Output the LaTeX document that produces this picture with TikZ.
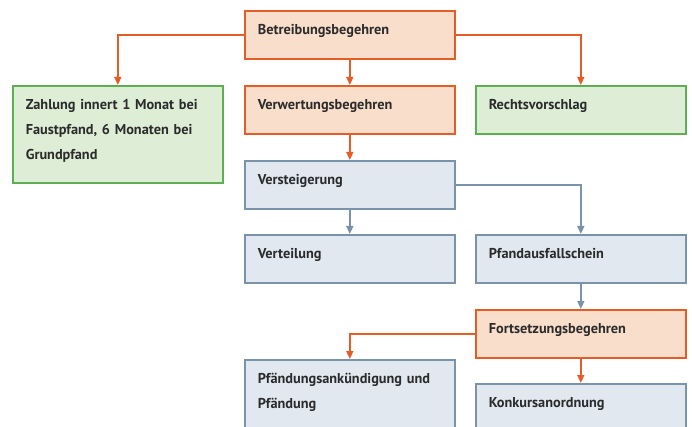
\documentclass[tikz,border=0pt]{standalone}
\usepackage{fontspec}
\setmainfont{PT Sans}
\usetikzlibrary{arrows.meta,positioning}
\definecolor{orangeline}{HTML}{E45D27}
\definecolor{orangefill}{HTML}{F9DECB}
\definecolor{greenline}{HTML}{5DAF52}
\definecolor{greenfill}{HTML}{DDEDD6}
\definecolor{blueline}{HTML}{7893AA}
\definecolor{bluefill}{HTML}{E1E8EF}
\definecolor{textgray}{HTML}{2B2B2B}

\begin{document}
\begin{tikzpicture}[x=1pt, y=-1pt,
  box/.style={draw, line width=1.6pt, anchor=north west, text width=184pt, align=left,
    inner xsep=13pt, inner ysep=0pt, text height=24pt, text depth=24pt,
    font=\bfseries\fontsize{14.3}{25}\selectfont, text=textgray},
  orangebox/.style={box, draw=orangeline, fill=orangefill},
  greenbox/.style={box, draw=greenline, fill=greenfill},
  bluebox/.style={box, draw=blueline, fill=bluefill},
  link/.style={line width=1.6pt, -{Triangle[length=8pt,width=7pt]}},
  orangelink/.style={link, draw=orangeline},
  bluelink/.style={link, draw=blueline}]
  \useasboundingbox (0,0) rectangle (692,427);
  % top
  \node[orangebox] (betr) at (244,10) {Betreibungsbegehren};
  \node[greenbox, text depth=73pt] (zahl) at (12,85) {Zahlung innert 1 Monat bei\\Faustpfand, 6 Monaten bei\\Grundpfand};
  \node[orangebox] (verw) at (244,85) {Verwertungsbegehren};
  \node[greenbox] (rechts) at (475,85) {Rechtsvorschlag};
  % Verwertung
  \node[bluebox] (verst) at (244,160) {Versteigerung};
  \node[bluebox] (vert) at (244,234) {Verteilung};
  \node[bluebox] (pfand) at (475,234) {Pfandausfallschein};
  % Fortsetzung
  \node[orangebox] (forts) at (475,309) {Fortsetzungsbegehren};
  \node[bluebox, text depth=73pt] (pfaend) at (244,359) {Pfändungsankündigung und\\Pfändung};
  \node[bluebox, text depth=73pt] (konk) at (475,383) {Konkursanordnung};

  \draw[orangelink] (betr.west) -| (zahl.north);
  \draw[orangelink] (betr.east) -| (rechts.north);
  \draw[orangelink] (betr) -- (verw);
  \draw[orangelink] (verw) -- (verst);
  \draw[bluelink] (verst) -- (vert);
  \draw[bluelink] (verst.east) -| (pfand.north);
  \draw[bluelink] (pfand) -- (forts);
  \draw[orangelink] (forts.west) -| (pfaend.north);
  \draw[orangelink] (forts) -- (konk);
\end{tikzpicture}
\end{document}
